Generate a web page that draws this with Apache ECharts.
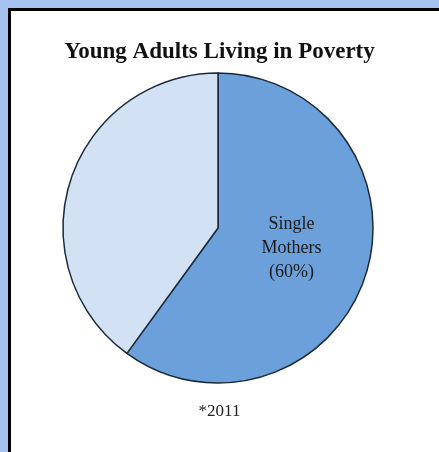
<!DOCTYPE html>
<html>
<head>
<meta charset="utf-8">
<script src="https://cdn.jsdelivr.net/npm/echarts@6/dist/echarts.min.js"></script>
<style>
  html, body { margin: 0; padding: 0; }
  body { width: 439px; height: 452px; background: #a6c3ef; position: relative; overflow: hidden; }
  .panel {
    position: absolute; left: 8px; top: 8px; right: 0; bottom: 0;
    background: #ffffff;
    border-left: 3px solid #000; border-top: 3px solid #000;
  }
  #chart { position: absolute; left: 0; top: 0; width: 439px; height: 452px; }
</style>
</head>
<body>
<div class="panel"></div>
<div id="chart"></div>
<script>
const categories = ['Single\nMothers', 'Other'];
const shares = [60, 40];
const showLabel = [true, false];
const sliceColors = ['#6ba0da', '#d2e2f4'];

const chart = echarts.init(document.getElementById('chart'));

const option = {
  backgroundColor: 'transparent',
  animation: false,
  title: {
    text: 'Young Adults Living in Poverty',
    left: 'center',
    top: 36,
    textStyle: { fontFamily: 'Liberation Serif', fontWeight: 'bold', fontSize: 23, color: '#111' }
  },
  graphic: [{
    type: 'text',
    left: 'center',
    top: 403,
    style: { text: '*2011', font: '17px "Liberation Serif"', fill: '#222' }
  }],
  series: [{
    type: 'pie',
    center: [218, 228],
    radius: 155,
    startAngle: 90,
    clockwise: true,
    silent: true,
    labelLine: { show: false },
    itemStyle: { borderColor: '#1b2a3a', borderWidth: 1.5 },
    label: {
      position: 'inside',
      offset: [-3, -5],
      fontFamily: 'Liberation Serif',
      fontSize: 18,
      lineHeight: 24,
      color: '#1a1a1a',
      formatter: p => p.name + '\n(' + p.value + '%)'
    },
    data: categories.map((c, i) => ({
      name: c,
      value: shares[i],
      itemStyle: { color: sliceColors[i] },
      label: { show: showLabel[i] }
    }))
  }]
};

chart.setOption(option);
</script>
</body>
</html>
